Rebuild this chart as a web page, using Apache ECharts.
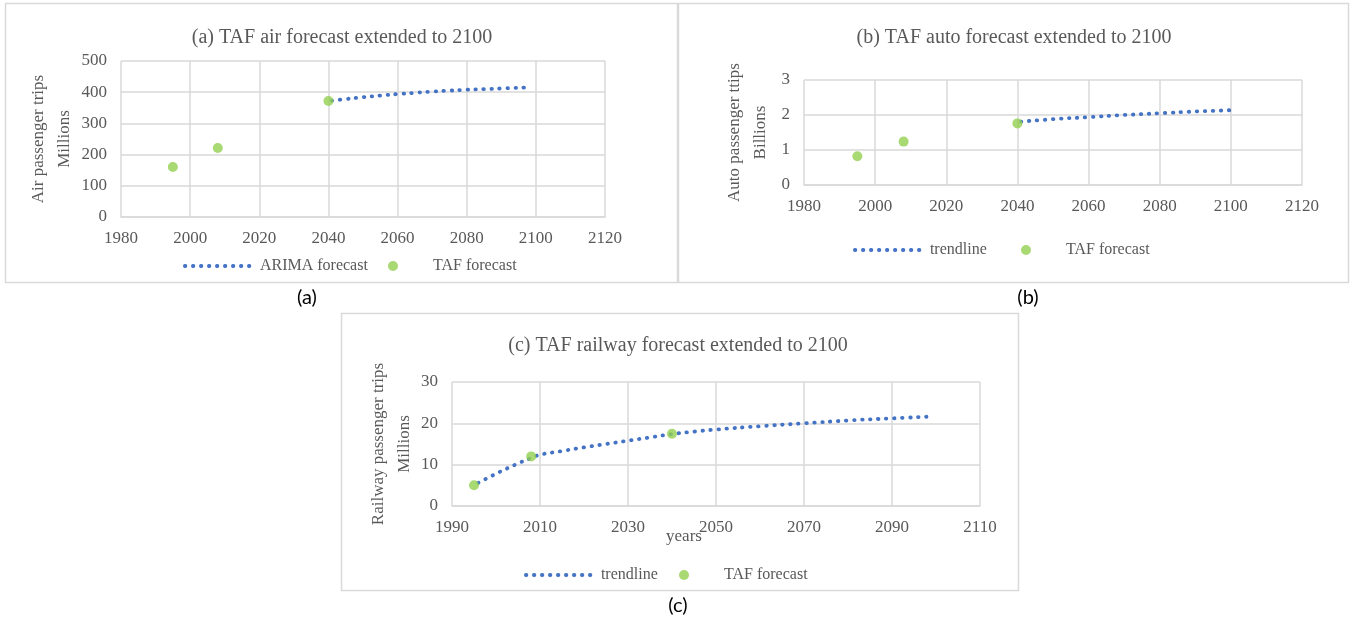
<!DOCTYPE html>
<html><head><meta charset="utf-8">
<script src="https://cdn.jsdelivr.net/npm/echarts@6/dist/echarts.min.js"></script>
<style>html,body{margin:0;padding:0;background:#fff}#c{width:1351px;height:624px}</style>
</head><body><div id="c"></div>
<script>
// ---- data ----
const tafYears = [1995, 2008, 2040];
const airTaf = [160, 221, 372];
const airArimaYears = [2041, 2045, 2050, 2055, 2060, 2065, 2070, 2075, 2080, 2085, 2090, 2097];
const airArima = [373, 378, 384, 389, 394, 398, 402, 405, 408, 410, 412, 415];
const autoTaf = [0.82, 1.24, 1.76];
const autoTrendYears = [2041, 2050, 2060, 2070, 2080, 2090, 2101];
const autoTrend = [1.81, 1.88, 1.94, 2.0, 2.05, 2.1, 2.14];
const railTaf = [5.0, 12.0, 17.5];
const railTrendYears = [1996, 2000, 2005, 2008, 2010, 2015, 2020, 2025, 2030, 2035, 2040, 2045, 2050, 2060, 2070, 2080, 2090, 2098];
const railTrend = [5.6, 7.8, 10.3, 11.6, 12.4, 13.3, 14.2, 15.0, 15.8, 16.6, 17.4, 18.0, 18.5, 19.3, 20.0, 20.7, 21.2, 21.6];
const titles = ['(a) TAF air forecast extended to 2100', '(b) TAF auto forecast extended to 2100', '(c) TAF railway forecast extended to 2100'];

const zip = (xs, ys) => xs.map((x, i) => [x, ys[i]]);
const SERIF = '"Liberation Serif", "DejaVu Serif", serif';
const GRAY = '#595959';
const GRID = '#d9d9d9';
const BLUE = '#4472c4';
const GREEN = '#92d050';

function xAxis(idx, min, max, extra) {
  return Object.assign({
    type: 'value', gridIndex: idx, min: min, max: max, interval: 20,
    axisLine: {show: true, lineStyle: {color: GRID, width: 1.5}},
    axisTick: {show: false},
    splitLine: {show: true, lineStyle: {color: GRID, width: 1.5}},
    axisLabel: {color: GRAY, fontFamily: SERIF, fontSize: 17, margin: 13, showMinLabel: true, showMaxLabel: true,
      formatter: v => String(v)}
  }, extra || {});
}
function yAxis(idx, max, interval, name, gap) {
  return {
    type: 'value', gridIndex: idx, min: 0, max: max, interval: interval,
    axisLine: {show: false}, axisTick: {show: false},
    splitLine: {show: true, lineStyle: {color: GRID, width: 1.5}},
    axisLabel: {color: GRAY, fontFamily: SERIF, fontSize: 17, margin: 14},
    name: name, nameLocation: 'middle', nameGap: gap, nameRotate: 90,
    nameTextStyle: {color: GRAY, fontFamily: SERIF, fontSize: 17, lineHeight: 26, align: 'center'}
  };
}
const dotted = {color: BLUE, width: 3.8, type: [0.5, 7.5], cap: 'round'};
function lineSeries(name, idx, data) {
  return {type: 'line', name: name, xAxisIndex: idx, yAxisIndex: idx, data: data, smooth: true,
    symbol: 'none', lineStyle: dotted, itemStyle: {color: BLUE}, z: 2, silent: true};
}
function tafSeries(idx, data) {
  return {type: 'scatter', name: 'TAF forecast', xAxisIndex: idx, yAxisIndex: idx, data: data,
    symbol: 'circle', symbolSize: 10, itemStyle: {color: GREEN}, z: 3, silent: true};
}
const legendText = {color: GRAY, fontFamily: SERIF, fontSize: 16};
function legend(name, left, cy, isLine) {
  const l = {data: [name], left: left, top: cy - 6, padding: 0, itemWidth: 70, itemHeight: 10,
    textStyle: legendText, selectedMode: false};
  if (isLine) {
    l.itemStyle = {opacity: 0};
    l.lineStyle = {width: 3.8, type: [0.5, 7.5], cap: 'round'};
  } else {
    l.icon = 'circle';
  }
  return l;
}
function title(text, cx, cy) {
  return {text: text, left: cx, top: cy - 8, textAlign: 'center', padding: 0,
    textStyle: {color: GRAY, fontFamily: SERIF, fontSize: 20, fontWeight: 'normal'}};
}

const chart = echarts.init(document.getElementById('c'), null, {renderer: 'canvas'});
chart.setOption({
  backgroundColor: '#fff',
  animation: false,
  title: [title(titles[0], 342, 36), title(titles[1], 1014, 36), title(titles[2], 678, 344)],
  grid: [
    {left: 121, top: 61, width: 484, height: 156},
    {left: 804, top: 80, width: 498, height: 105},
    {left: 452, top: 382, width: 528, height: 124}
  ],
  xAxis: [
    xAxis(0, 1980, 2120),
    xAxis(1, 1980, 2120),
    xAxis(2, 1990, 2110, {name: 'years', nameLocation: 'middle', nameGap: 22, nameMoveOverlap: false,
      nameTextStyle: {color: GRAY, fontFamily: SERIF, fontSize: 17, padding: [0, 64, 0, 0]}})
  ],
  yAxis: [
    yAxis(0, 500, 100, 'Air passenger trips\nMillions', 43),
    yAxis(1, 3, 1, 'Auto passenger ttips\nBillions', 30),
    yAxis(2, 30, 10, 'Railway passenger trips\nMillions', 34)
  ],
  legend: [
    legend('ARIMA forecast', 183, 264, true),
    legend('TAF forecast', 388, 264, false),
    legend('trendline', 853, 248, true),
    legend('TAF forecast', 1021, 248, false),
    legend('trendline', 524, 573, true),
    legend('TAF forecast', 679, 573, false)
  ],
  series: [
    lineSeries('ARIMA forecast', 0, zip(airArimaYears, airArima)),
    tafSeries(0, zip(tafYears, airTaf)),
    lineSeries('trendline', 1, zip(autoTrendYears, autoTrend)),
    tafSeries(1, zip(tafYears, autoTaf)),
    lineSeries('trendline', 2, zip(railTrendYears, railTrend)),
    tafSeries(2, zip(tafYears, railTaf))
  ],
  graphic: [
    {type: 'rect', shape: {x: 5.5, y: 3.5, width: 672, height: 279}, style: {fill: 'none', stroke: GRID, lineWidth: 1.5}, silent: true},
    {type: 'rect', shape: {x: 678.5, y: 3.5, width: 670, height: 279}, style: {fill: 'none', stroke: GRID, lineWidth: 1.5}, silent: true},
    {type: 'rect', shape: {x: 341.5, y: 313.5, width: 677, height: 277}, style: {fill: 'none', stroke: GRID, lineWidth: 1.5}, silent: true},
    {type: 'text', x: 307, y: 298, style: {text: '(a)', fill: '#000', font: '20px Lato, "Open Sans", sans-serif', align: 'center', verticalAlign: 'middle'}, silent: true},
    {type: 'text', x: 1028, y: 298, style: {text: '(b)', fill: '#000', font: '20px Lato, "Open Sans", sans-serif', align: 'center', verticalAlign: 'middle'}, silent: true},
    {type: 'text', x: 678, y: 606, style: {text: '(c)', fill: '#000', font: '20px Lato, "Open Sans", sans-serif', align: 'center', verticalAlign: 'middle'}, silent: true}
  ]
});
</script></body></html>
